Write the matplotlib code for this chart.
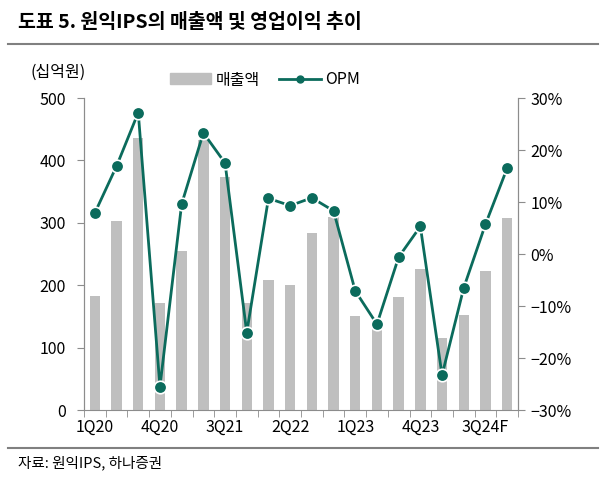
import numpy as np
import matplotlib.pyplot as plt
from matplotlib.lines import Line2D
from matplotlib.patches import Patch
from matplotlib.ticker import FuncFormatter

plt.rcParams['font.family'] = ['Noto Sans CJK KR', 'DejaVu Sans']

# quarters 1Q20 .. 4Q24F
quarters = ["1Q20", "2Q20", "3Q20", "4Q20", "1Q21", "2Q21", "3Q21", "4Q21",
            "1Q22", "2Q22", "3Q22", "4Q22", "1Q23", "2Q23", "3Q23", "4Q23",
            "1Q24", "2Q24", "3Q24F", "4Q24F"]
sales = [182, 303, 436, 171, 255, 432, 374, 172, 209, 200, 283, 310,
         151, 132, 181, 226, 115, 152, 222, 307]          # 십억원
opm = [7.9, 16.9, 27.2, -25.5, 9.6, 23.3, 17.5, -15.1, 10.7, 9.3, 10.8, 8.3,
       -7.1, -13.5, -0.6, 5.3, -23.3, -6.5, 5.7, 16.5]     # %

BAR = "#bfbfbf"
TEAL = "#0b6b5c"
AXC = "#8c8c8c"

fig = plt.figure(figsize=(6.06, 4.86), dpi=100)
ax = fig.add_axes([84/606, 1-410/486, 434/606, 312/486])
ax2 = ax.twinx()

x = np.arange(len(quarters))
ax.bar(x, sales, width=0.48, color=BAR, zorder=1)
ax2.plot(x, opm, color=TEAL, lw=2, marker="o", ms=9, mfc=TEAL,
         mec="white", mew=1.2, zorder=3)

ax.set_xlim(-0.5, len(quarters) - 0.5)
ax.set_ylim(0, 500)
ax.set_yticks(range(0, 501, 100))
ax2.set_ylim(-30, 30)
ax2.set_yticks(range(-30, 31, 10))
ax2.yaxis.set_major_formatter(FuncFormatter(lambda v, p: f"{v:.0f}%".replace("-", "\u2212")))

ax.set_xticks(x[::3])
ax.set_xticklabels(quarters[::3])
ax.set_xticks(np.arange(-0.5, len(quarters), 1), minor=True)
ax.tick_params(axis="x", which="major", length=0, pad=6, labelsize=11.5)
ax.tick_params(axis="x", which="minor", length=5, color=AXC, direction="out")
ax.tick_params(axis="y", length=5, color=AXC, labelsize=11.5, pad=8)
ax2.tick_params(axis="y", length=5, color=AXC, labelsize=11.5, pad=4)

for a in (ax, ax2):
    a.spines["top"].set_visible(False)
    for s in ("left", "right", "bottom"):
        a.spines[s].set_color(AXC)
ax2.spines["bottom"].set_visible(False)
ax.set_zorder(ax2.get_zorder() - 1)
ax2.patch.set_visible(False)

# title and rules
fig.text(18/606, 1-22/486, "도표 5. 원익IPS의 매출액 및 영업이익 추이",
         fontsize=14, fontweight="bold", va="center", ha="left")
fig.add_artist(Line2D([8/606, 598/606], [1-44/486, 1-44/486], color="#808080", lw=1.5))
fig.add_artist(Line2D([8/606, 598/606], [1-448/486, 1-448/486], color="#808080", lw=1.5))
fig.text(18/606, 1-463/486, "자료: 원익IPS, 하나증권", fontsize=10.5, va="center", ha="left")
fig.text(30/606, 1-72/486, "(십억원)", fontsize=11.5, va="center", ha="left")

handles = [Patch(color=BAR),
           Line2D([], [], color=TEAL, lw=2, marker="o", ms=5, mfc=TEAL, mec=TEAL)]
fig.legend(handles, ["매출액", "OPM"], loc="center", bbox_to_anchor=(265/606, 1-80/486),
           ncol=2, frameon=False, fontsize=11.5, handlelength=2.6, handletextpad=0.3,
           columnspacing=1.2)

fig.savefig("out.png", dpi=100)
